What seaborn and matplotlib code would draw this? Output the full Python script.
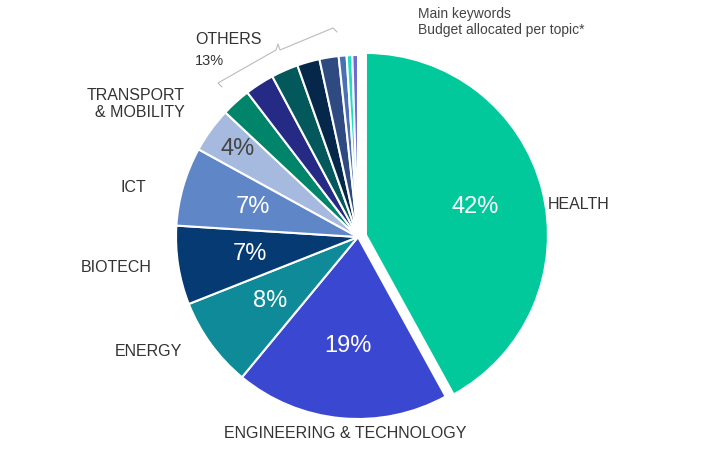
import numpy as np
import matplotlib.pyplot as plt
import seaborn as sns

sns.set_style("white")
plt.rcParams['font.family'] = ['Arial', 'Liberation Sans', 'DejaVu Sans']

topics = ['HEALTH', 'ENGINEERING & TECHNOLOGY', 'ENERGY', 'BIOTECH', 'ICT', 'TRANSPORT & MOBILITY',
          'o1', 'o2', 'o3', 'o4', 'o5', 'o6', 'o7', 'o8']
shares = [42, 19, 8, 7, 7, 4, 2.6, 2.6, 2.4, 2.0, 1.7, 0.7, 0.5, 0.5]
pct_labels = ['42%', '19%', '8%', '7%', '7%', '4%']
colors = ['#02C99B', '#3A47D1', '#0E8A99', '#063A73', '#5F87C8', '#A6BADF',
          '#00856A', '#252A85', '#03585C', '#05284A', '#2E4A80', '#4A6FB5', '#1CE0C0', '#6A6AD0']

fig = plt.figure(figsize=(7.07, 4.49), dpi=100)
W, H = 707, 449
cx, cy, R = 358, 237, 182
ax = fig.add_axes([(cx - R) / W, (H - cy - R) / H, 2 * R / W, 2 * R / H])
explode = [0.045] + [0] * (len(shares) - 1)
wedges, _ = ax.pie(shares, colors=colors, startangle=90, counterclock=False, explode=explode,
                   wedgeprops=dict(edgecolor='white', linewidth=1.5))
ax.set_xlim(-1, 1)
ax.set_ylim(-1, 1)
ax.set_aspect('equal')
ax.axis('off')

for i, lab in enumerate(pct_labels):
    w = wedges[i]
    a = np.deg2rad((w.theta1 + w.theta2) / 2)
    r = 0.6 if i > 0 else 0.62
    if i == 5:
        r = 0.82
    c = '#444444' if i == 5 else 'white'
    x0, y0 = w.center
    ax.text(x0 + r * np.cos(a), y0 + r * np.sin(a), lab, ha='center', va='center',
            color=c, fontsize=17)

def px(x, y):
    return ((x - cx) / R, (cy - y) / R)

tc = '#333333'
kw = dict(fontsize=11.5, color=tc, clip_on=False)
ax.text(*px(548, 205), 'HEALTH', ha='left', va='center', **kw)
ax.text(*px(345, 433), 'ENGINEERING & TECHNOLOGY', ha='center', va='center', **kw)
ax.text(*px(182, 352), 'ENERGY', ha='right', va='center', **kw)
ax.text(*px(152, 268), 'BIOTECH', ha='right', va='center', **kw)
ax.text(*px(146, 188), 'ICT', ha='right', va='center', **kw)
ax.text(*px(185, 104), 'TRANSPORT\n& MOBILITY', ha='right', va='center', linespacing=1.2, **kw)
ax.text(*px(195, 40), 'OTHERS', ha='left', va='center', **kw)
ax.text(*px(195, 61), '13%', ha='left', va='center', fontsize=10.5, color=tc, clip_on=False)
ax.text(*px(418, 22), 'Main keywords\nBudget allocated per topic*', ha='left', va='center',
        fontsize=10, color='#444444', linespacing=1.25, clip_on=False)

# bracket around the small slices
bx = [222, 218, 276, 278, 280, 333, 337]
by = [87, 83, 50, 44, 50, 28, 32]
ax.plot(*zip(*[px(x, y) for x, y in zip(bx, by)]), color='#bbbbbb', lw=0.8, clip_on=False)

fig.savefig('out.png', dpi=100)
